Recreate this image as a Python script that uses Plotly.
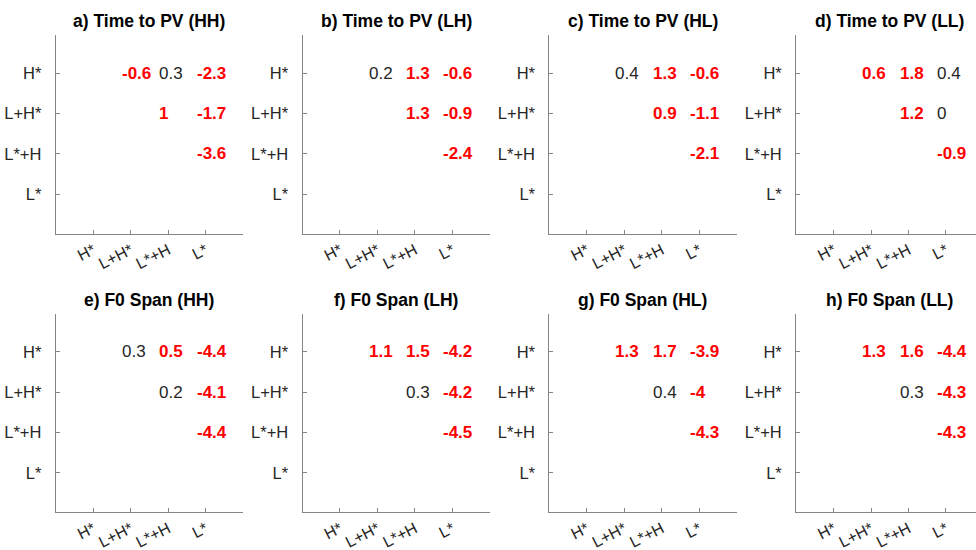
import plotly.graph_objects as go

# Category labels (rows and columns share the same order)
accents = ["H*", "L+H*", "L*+H", "L*"]

# Upper-triangle cells: (row, column) positions on the 1..4 category grid
pair_rows = [1, 1, 1, 2, 2, 3]
pair_cols = [2, 3, 4, 3, 4, 4]

panel_titles = [
    "a) Time to PV (HH)", "b) Time to PV (LH)", "c) Time to PV (HL)", "d) Time to PV (LL)",
    "e) F0 Span (HH)", "f) F0 Span (LH)", "g) F0 Span (HL)", "h) F0 Span (LL)",
]

# Pairwise differences, ordered like pair_rows / pair_cols
time_hh = [-0.6, 0.3, -2.3, 1.0, -1.7, -3.6]
time_lh = [0.2, 1.3, -0.6, 1.3, -0.9, -2.4]
time_hl = [0.4, 1.3, -0.6, 0.9, -1.1, -2.1]
time_ll = [0.6, 1.8, 0.4, 1.2, 0.0, -0.9]
span_hh = [0.3, 0.5, -4.4, 0.2, -4.1, -4.4]
span_lh = [1.1, 1.5, -4.2, 0.3, -4.2, -4.5]
span_hl = [1.3, 1.7, -3.9, 0.4, -4.0, -4.3]
span_ll = [1.3, 1.6, -4.4, 0.3, -4.3, -4.3]

# Significance flags (1 = significant, drawn in bold red)
sig_time_hh = [1, 0, 1, 1, 1, 1]
sig_time_lh = [0, 1, 1, 1, 1, 1]
sig_time_hl = [0, 1, 1, 1, 1, 1]
sig_time_ll = [1, 1, 0, 1, 0, 1]
sig_span_hh = [0, 1, 1, 0, 1, 1]
sig_span_lh = [1, 1, 1, 0, 1, 1]
sig_span_hl = [1, 1, 1, 0, 1, 1]
sig_span_ll = [1, 1, 1, 0, 1, 1]

panel_values = [time_hh, time_lh, time_hl, time_ll, span_hh, span_lh, span_hl, span_ll]
panel_sig = [sig_time_hh, sig_time_lh, sig_time_hl, sig_time_ll,
             sig_span_hh, sig_span_lh, sig_span_hl, sig_span_ll]

W, H = 976, 550
FONT = "Liberation Sans, Arial, Helvetica, sans-serif"
AXIS_GREY = "#858585"
TEXT_DARK = "#262626"
RED = "#ff0000"

col_left = [55.7 + 246.8 * k for k in range(4)]
col_width = 187.3
row_top = [35.0, 313.5]
row_height = 198.8
px_per_x = col_width / 5.0

fig = go.Figure()
annotations = []

for p in range(8):
    r, c = divmod(p, 4)
    idx = "" if p == 0 else str(p + 1)
    x0 = col_left[c]
    x1 = min(x0 + col_width, W)
    xmax = (x1 - x0) / px_per_x
    y_top = row_top[r]
    y_bot = y_top + row_height

    xa = dict(
        domain=[x0 / W, x1 / W], range=[0, xmax], anchor="y" + idx,
        tickmode="array", tickvals=[1, 2, 3, 4], ticktext=accents,
        tickangle=-27, ticks="inside", ticklen=4, tickwidth=1, tickcolor=AXIS_GREY,
        showline=True, linecolor=AXIS_GREY, linewidth=1, mirror=False,
        showgrid=False, zeroline=False, fixedrange=True,
        tickfont=dict(family=FONT, size=16, color=TEXT_DARK),
    )
    ya = dict(
        domain=[1 - y_bot / H, 1 - y_top / H], range=[4.98, 0.05], anchor="x" + idx,
        tickmode="array", tickvals=[1, 2, 3, 4], ticktext=accents,
        ticks="inside", ticklen=4, tickwidth=1, tickcolor=AXIS_GREY,
        showline=True, linecolor=AXIS_GREY, linewidth=1, mirror=False,
        showgrid=False, zeroline=False, fixedrange=True, ticklabelstandoff=10,
        tickfont=dict(family=FONT, size=16.5, color=TEXT_DARK),
    )
    fig.update_layout({"xaxis" + idx: xa, "yaxis" + idx: ya})
    fig.add_trace(go.Scatter(x=[], y=[], xaxis="x" + idx, yaxis="y" + idx,
                             showlegend=False, hoverinfo="skip"))

    # panel title
    annotations.append(dict(
        text=panel_titles[p], xref="paper", yref="paper",
        x=(x0 + col_width / 2) / W, y=1 - (y_top - 13.5) / H,
        xanchor="center", yanchor="middle", showarrow=False,
        font=dict(family=FONT, size=17.5, color="#000000", weight="bold"),
    ))

    # cell values
    for v, s, rr, cc in zip(panel_values[p], panel_sig[p], pair_rows, pair_cols):
        annotations.append(dict(
            text=f"{v:g}", xref="x" + idx, yref="y" + idx,
            x=cc - 0.29, y=rr, xanchor="left", yanchor="middle", showarrow=False,
            font=dict(family=FONT, size=17, color=RED if s else TEXT_DARK,
                      weight="bold" if s else "normal"),
        ))

fig.update_layout(
    width=W, height=H, margin=dict(l=0, r=0, t=0, b=0),
    paper_bgcolor="white", plot_bgcolor="white",
    showlegend=False, annotations=annotations,
)

fig.write_html("out.html")
